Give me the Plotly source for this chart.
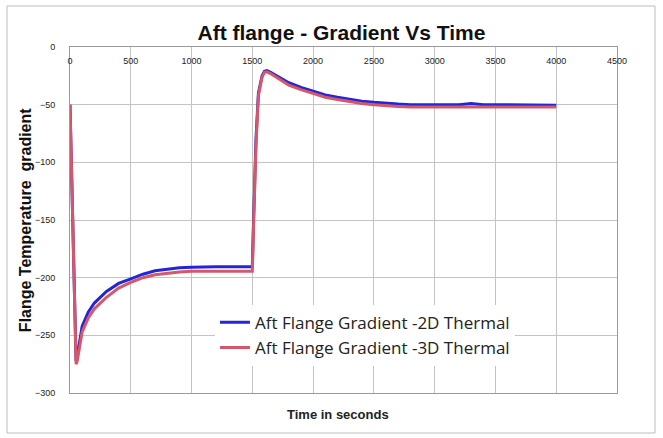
import plotly.graph_objects as go

time_s = [0, 20, 40, 50, 60, 80, 100, 150, 200, 300, 400, 500, 600, 700, 800, 900, 1000,
          1100, 1200, 1300, 1400, 1500, 1510, 1530, 1550, 1580, 1600, 1620, 1650, 1700,
          1750, 1800, 1900, 2000, 2100, 2200, 2300, 2400, 2500, 2600, 2700, 2800, 2900,
          3000, 3200, 3300, 3400, 3600, 3800, 4000]

grad_2d = [-50, -140, -230, -272, -268, -255, -242, -230, -222, -212, -205, -201, -197,
           -194, -192.5, -191.5, -191, -190.5, -190.5, -190.5, -190.5, -190.5, -150, -80,
           -40, -25, -21, -20.5, -22, -25, -28, -31, -35, -38.5, -41.5, -43.5, -45.5, -47,
           -48, -49, -49.5, -50, -50, -50, -50, -49, -50, -50, -50.5, -50.5]

grad_3d = [-50, -142, -234, -275, -272, -260, -247, -235, -227, -217, -209, -204, -200,
           -197.5, -196, -195, -194.5, -194.5, -194.5, -194.5, -194.5, -194.5, -155, -85,
           -42, -26, -22, -21.5, -23, -26.5, -30, -33, -37, -40.5, -43.5, -45.5, -47.5,
           -49, -50, -51, -51.5, -52, -52, -52, -52, -51.5, -52, -52, -52, -52]

fig = go.Figure()
fig.add_trace(go.Scatter(x=time_s, y=grad_2d, mode="lines",
                         name="Aft Flange Gradient -2D Thermal",
                         line=dict(color="#2424d8", width=3)))
fig.add_trace(go.Scatter(x=time_s, y=grad_3d, mode="lines",
                         name="Aft Flange Gradient -3D Thermal",
                         line=dict(color="#d4576a", width=3)))

fig.update_layout(
    width=663, height=438,
    margin=dict(l=70, r=46, t=47, b=45),
    paper_bgcolor="white", plot_bgcolor="white",
    title=dict(text="<b>Aft flange - Gradient Vs Time</b>", x=0.515, xanchor="center",
               y=0.925, yanchor="middle",
               font=dict(family="Arial", size=21, color="#111111")),
    showlegend=True,
    legend=dict(x=0.265, y=0.255, xanchor="left", yanchor="top",
                bgcolor="white", borderwidth=0,
                font=dict(family="Open Sans", size=17, color="#222222"),
                tracegroupgap=0, itemwidth=30),
    xaxis=dict(range=[0, 4500], dtick=500, side="top", ticklabelposition="inside",
               ticklabeloverflow="allow", ticklabelstandoff=10,
               showgrid=True, gridcolor="#c4c4c4", gridwidth=1,
               showline=True, linecolor="#9a9a9a", mirror=True,
               ticks="", zeroline=False,
               tickfont=dict(family="Arial Black, Arial", size=9, color="#222222")),
    yaxis=dict(range=[-300, 0], dtick=50, ticklabeloverflow="allow", ticklabelstandoff=12,
               showgrid=True, gridcolor="#c4c4c4", gridwidth=1,
               showline=True, linecolor="#9a9a9a", mirror=True,
               ticks="", zeroline=False,
               tickfont=dict(family="Arial", size=9, color="#222222")),
)

fig.add_annotation(text="<b>Flange Temperature  gradient</b>", xref="paper", yref="paper",
                   x=-0.082, y=0.5, xanchor="center", yanchor="middle", textangle=-90,
                   showarrow=False,
                   font=dict(family="Arial", size=16, color="#111111"))

fig.add_annotation(text="<b>Time in seconds</b>", xref="paper", yref="paper",
                   x=0.49, y=-0.035, xanchor="center", yanchor="top", showarrow=False,
                   font=dict(family="Arial", size=13, color="#222222"))

fig.add_shape(type="rect", xref="paper", yref="paper",
              x0=-63 / 547, x1=(655 - 70) / 547, y0=-(433 - 393) / 346, y1=(393 - 6) / 346,
              line=dict(color="#bdbdbd", width=1), fillcolor="rgba(0,0,0,0)", layer="below")

fig.write_html("out.html")
